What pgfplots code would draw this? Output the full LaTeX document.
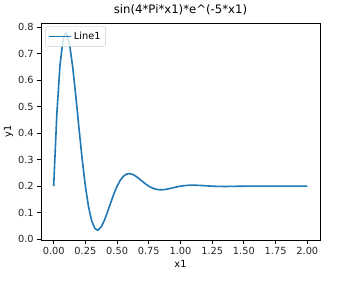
\documentclass[border=0pt]{standalone}
\usepackage{fontspec}
\setmainfont{DejaVu Sans}
\usepackage{pgfplots}
\pgfplotsset{compat=1.18}
\definecolor{mplblue}{HTML}{1F77B4}
\begin{document}
\begin{tikzpicture}
\begin{axis}[
  name=ax,
  scale only axis,
  width=279pt, height=217pt,
  xmin=-0.1, xmax=2.1,
  ymin=-0.0029, ymax=0.815,
  xtick={0,0.25,...,2.0},
  ytick={0,0.1,...,0.8},
  xticklabel style={/pgf/number format/.cd,fixed,fixed zerofill,precision=2},
  yticklabel style={/pgf/number format/.cd,fixed,fixed zerofill,precision=1},
  /pgf/number format/assume math mode=true,
  tick label style={font=\fontsize{9.8}{12}\selectfont, color=black!85},
  label style={font=\fontsize{9.8}{12}\selectfont},
  title style={font=\fontsize{11.7}{14}\selectfont, yshift=-2pt},
  title={sin(4*Pi*x1)*e\^{}(-5*x1)},
  xlabel={x1}, ylabel={y1},
  xlabel style={yshift=1pt},
  ylabel style={yshift=-2pt},
  tick align=outside,
  xtick pos=bottom, ytick pos=left,
  major tick length=3.8pt,
  every tick/.style={black, line width=0.9pt},
  axis line style={line width=0.9pt},
  legend style={font=\fontsize{9.8}{12}\selectfont, draw=black!20, rounded corners=2.5pt, fill=white, fill opacity=0.8, draw opacity=1, text opacity=1, at={(0.015,0.985)}, anchor=north west, inner xsep=3pt, inner ysep=3.5pt},
  legend cell align=left,
  legend image code/.code={\draw[mplblue, line width=1.6pt, opacity=1] (0cm,0cm) -- (22pt,0cm);},
]
\addplot[mplblue, line width=1.6pt] coordinates {
(0,0.2) (0.025,0.4727) (0.05,0.6578) (0.075,0.7560) (0.0949,0.7780) (0.1,0.7769)
(0.125,0.7353) (0.15,0.6492) (0.175,0.5373) (0.2,0.4162) (0.225,0.3003)
(0.25,0.2) (0.275,0.1219) (0.3,0.0688) (0.325,0.0407) (0.3449,0.0343) (0.35,0.0347)
(0.375,0.0467) (0.4,0.0713) (0.425,0.1034) (0.45,0.1380) (0.475,0.1713)
(0.5,0.2) (0.525,0.2224) (0.55,0.2376) (0.575,0.2456) (0.6,0.2474)
(0.625,0.2439) (0.65,0.2369) (0.675,0.2277) (0.7,0.2178) (0.725,0.2082)
(0.75,0.2) (0.775,0.1936) (0.8,0.1892) (0.825,0.1869) (0.85,0.1864)
(0.875,0.1874) (0.9,0.1894) (0.925,0.1921) (0.95,0.1949) (0.975,0.1976)
(1.0,0.2) (1.05,0.2031) (1.1,0.2039) (1.15,0.2030) (1.2,0.2015)
(1.25,0.2) (1.3,0.1991) (1.35,0.1989) (1.4,0.1991) (1.45,0.1996)
(1.5,0.2) (1.6,0.2003) (1.7,0.2001) (1.8,0.2) (1.9,0.2) (2.0,0.2)
};
\addlegendentry{Line1}
\end{axis}
\pgfresetboundingbox
\path ([shift={(-41pt,-41pt)}]ax.south west) rectangle ([shift={(20pt,23pt)}]ax.north east);
\end{tikzpicture}
\end{document}
